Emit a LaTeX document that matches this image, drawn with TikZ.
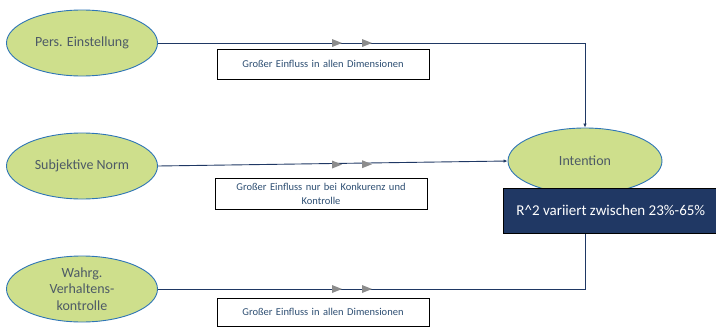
\documentclass[tikz,border=0pt]{standalone}
\usepackage{fontspec}
\setmainfont{Carlito}
\usetikzlibrary{shapes.geometric,arrows.meta}
\definecolor{elfill}{HTML}{CEDF8C}
\definecolor{elborder}{HTML}{2E75B6}
\definecolor{linecol}{HTML}{1F3864}
\definecolor{boxfill}{HTML}{203864}
\definecolor{txtgray}{HTML}{4D5A66}
\definecolor{labtxt}{HTML}{2E4F73}
\begin{document}
\begin{tikzpicture}[x=1pt,y=-1pt,
  construct/.style={ellipse,draw=elborder,fill=elfill,line width=0.9pt,minimum width=151pt,minimum height=66pt,inner sep=0pt,align=center,text=txtgray,font=\fontsize{14}{16.5}\selectfont},
  labelbox/.style={draw=black,fill=white,line width=0.8pt,minimum width=212pt,minimum height=30pt,inner sep=1pt,align=center,text=labtxt,font=\fontsize{10.5}{14}\selectfont,text width=208pt},
  conn/.style={draw=linecol,line width=0.9pt},
  marker/.style={fill=gray!90},
]
\useasboundingbox (0,0) rectangle (716,327);
\node[construct] (pe) at (82,43) {Pers. Einstellung};
\node[construct] (sn) at (82,166) {Subjektive Norm};
\node[construct] (wv) at (82,289) {Wahrg.\\Verhaltens-\\kontrolle};
\node[construct,minimum width=154pt] (in) at (585,161) {Intention};

\coordinate (c1) at (585,43);
\coordinate (c3) at (585,289);

\draw[conn,-{Latex[length=4pt,width=3.5pt]}] (pe.east) -- (c1) -- (in.north);
\draw[conn,-{Latex[length=4pt,width=3.5pt]}] (sn.east) -- (in.west);
\draw[conn,-{Latex[length=4pt,width=3.5pt]}] (wv.east) -- (c3) -- (in.south);

\fill[marker] (332,39) -- (342,43) -- (332,47) -- cycle;
\fill[marker] (362,39) -- (372,43) -- (362,47) -- cycle;
\fill[marker] (332,160.5) -- (342,164.5) -- (332,168.5) -- cycle;
\fill[marker] (362,160.2) -- (372,164.2) -- (362,168.2) -- cycle;
\fill[marker] (332,285) -- (342,289) -- (332,293) -- cycle;
\fill[marker] (362,285) -- (372,289) -- (362,293) -- cycle;

\node[labelbox] (l1) at (323,64) {Großer Einfluss in allen Dimensionen};
\node[labelbox,minimum height=31pt] (l2) at (321,193.5) {Großer Einfluss nur bei Konkurenz und\\Kontrolle};
\node[labelbox,minimum height=28pt] (l3) at (323,312) {Großer Einfluss in allen Dimensionen};

\node[draw=black,fill=boxfill,line width=0.6pt,minimum width=215pt,minimum height=45pt,anchor=north west,inner sep=0pt,text=white,font=\fontsize{15}{18}\selectfont] (r2) at (503,188) {R\textasciicircum 2 variiert zwischen 23\%-65\%};
\end{tikzpicture}
\end{document}
